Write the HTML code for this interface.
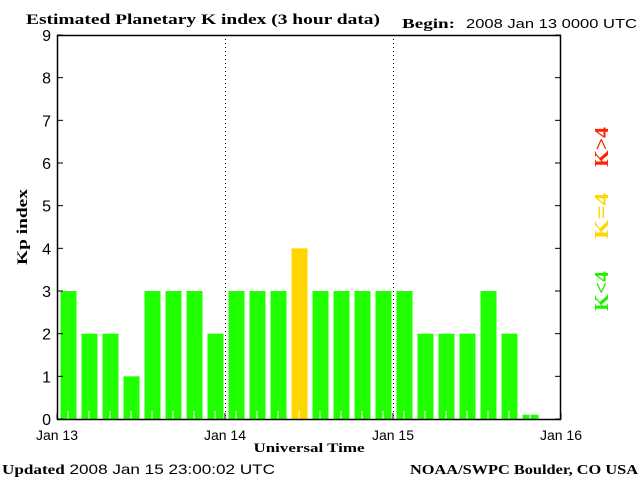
<!DOCTYPE html>
<html><head><meta charset="utf-8"><style>
body{margin:0;background:#fff;width:640px;height:480px;overflow:hidden}
svg text{font-family:"Liberation Sans",sans-serif}
.serif{font-family:"Liberation Serif",serif;font-weight:bold}
</style></head><body>
<svg id="chart" width="640" height="480" xmlns="http://www.w3.org/2000/svg">
<text class="serif" x="26" y="24" font-size="15" textLength="354" lengthAdjust="spacingAndGlyphs">Estimated Planetary K index (3 hour data)</text>
<text class="serif" x="402" y="28" font-size="14" textLength="53" lengthAdjust="spacingAndGlyphs">Begin:</text>
<text x="466" y="28" font-size="13" textLength="171" lengthAdjust="spacingAndGlyphs">2008 Jan 13 0000 UTC</text>
<g id="bars"></g>
<g id="axes"></g>
<text class="serif" font-size="15" transform="translate(27,227) rotate(-90)" text-anchor="middle" textLength="76" lengthAdjust="spacingAndGlyphs">Kp index</text>
<text class="serif" font-size="13" x="309" y="452" text-anchor="middle" textLength="111" lengthAdjust="spacingAndGlyphs">Universal Time</text>
<text class="serif" font-size="20" fill="#ff2200" transform="translate(608,147) rotate(-90)" text-anchor="middle" textLength="40" lengthAdjust="spacingAndGlyphs">K&gt;4</text>
<text class="serif" font-size="20" fill="#ffd700" transform="translate(608,216) rotate(-90)" text-anchor="middle" textLength="46" lengthAdjust="spacingAndGlyphs">K=4</text>
<text class="serif" font-size="20" fill="#22ee00" transform="translate(608,291) rotate(-90)" text-anchor="middle" textLength="40" lengthAdjust="spacingAndGlyphs">K&lt;4</text>
<text x="2" y="474" font-size="14" textLength="273" lengthAdjust="spacingAndGlyphs"><tspan class="serif">Updated</tspan> 2008 Jan 15 23:00:02 UTC</text>
<text class="serif" x="410" y="474" font-size="14" textLength="228" lengthAdjust="spacingAndGlyphs">NOAA/SWPC Boulder, CO USA</text>
</svg>
<script>
const kpValues=[3,2,2,1,3,3,3,2, 3,3,3,4,3,3,3,3, 3,2,2,2,3,2,0.1];
const yTicks=[0,1,2,3,4,5,6,7,8,9];
const dayLabels=["Jan 13","Jan 14","Jan 15","Jan 16"];
const L=57,R=561,T=35,B=419;
const slots=24;
const NS="http://www.w3.org/2000/svg";
function y(v){return B-(v/9)*(B-T);}
function x(i){return L+(R-L)*i/slots;}
function mk(tag,attrs,parent){const e=document.createElementNS(NS,tag);for(const k in attrs)e.setAttribute(k,attrs[k]);parent.appendChild(e);return e;}
const bars=document.getElementById('bars'),axes=document.getElementById('axes');
const sw=(R-L)/slots;
kpValues.forEach((v,i)=>{
  const col=v>4?'#ff2200':(v>=4?'#ffd700':'#1fff00');
  const r=mk('rect',{x:x(i)+3.5,y:y(v),width:sw-5,height:B-y(v),fill:col},bars);
  
  
  const t=mk('line',{x1:x(i)+sw/2+0.5,x2:x(i)+sw/2+0.5,y1:B-8,y2:B,stroke:'#fff','stroke-width':1},bars);
  
  
});
for(let d=1;d<dayLabels.length-1;d++){
  const xx=x(d*8)+0.5;
  const l=mk('line',{x1:xx,x2:xx,y1:T,y2:B,stroke:'#000','stroke-dasharray':'1,3'},axes);
  
  
}
const fr=mk('rect',{x:L+0.5,y:T+0.5,width:R-L-1,height:B-T,fill:'none',stroke:'#000','stroke-width':1.5},axes);


yTicks.forEach(v=>{
  const yy=y(v);
  mk('line',{x1:L,x2:L+6,y1:yy,y2:yy,stroke:'#000'},axes);
  mk('line',{x1:R-6,x2:R,y1:yy,y2:yy,stroke:'#000'},axes);
  const t=mk('text',{x:51,y:yy+6,'font-size':16,'text-anchor':'end'},axes);
  t.textContent=v;
  
  
});
dayLabels.forEach((s,d)=>{
  const xx=x(d*8);
  mk('line',{x1:xx,x2:xx,y1:B-6,y2:B,stroke:'#000'},axes);
  const t=mk('text',{x:xx,y:440,'font-size':14,'text-anchor':'middle'},axes);
  t.textContent=s;
  
  
});
</script>
</body></html>
